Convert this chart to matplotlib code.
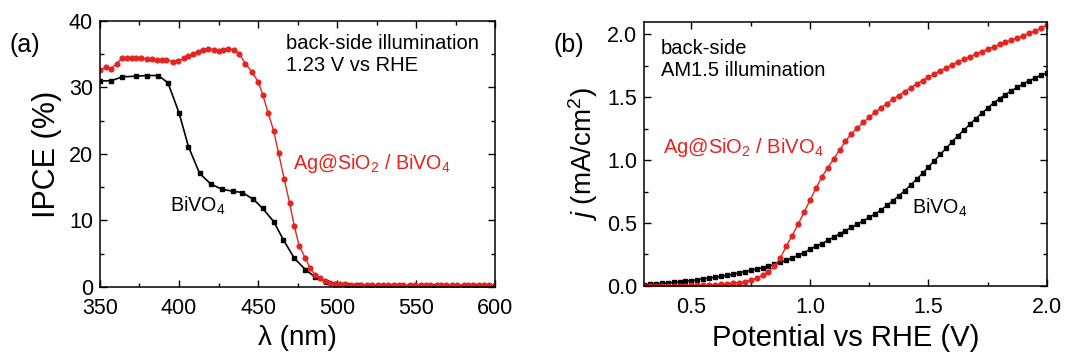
import matplotlib.pyplot as plt
from matplotlib.ticker import MultipleLocator

plt.rcParams['font.family'] = ['Liberation Sans', 'DejaVu Sans']
plt.rcParams['mathtext.fontset'] = 'custom'
plt.rcParams['mathtext.rm'] = 'Liberation Sans'
plt.rcParams['mathtext.it'] = 'Liberation Sans:italic'

RED = '#e5231f'

# (a) IPCE vs wavelength
wl_bivo4 = [350, 357, 364, 373, 380, 387, 393, 400, 406, 413, 420, 427, 434, 440, 447,
            453, 460, 466, 473, 480, 486, 493, 499, 506, 513, 520, 526, 533, 540, 546,
            553, 560, 567, 573, 580, 587, 593, 600]
ipce_bivo4 = [31.0, 31.0, 31.6, 31.7, 31.8, 31.8, 30.7, 26.2, 21.1, 17.1, 15.5, 14.7, 14.4,
              14.2, 13.2, 11.8, 9.8, 7.1, 4.3, 2.6, 1.5, 0.8, 0.4, 0.3, 0.25, 0.2, 0.2, 0.2,
              0.2, 0.2, 0.2, 0.2, 0.2, 0.2, 0.2, 0.2, 0.2, 0.2]

wl_ag = [350, 354, 357, 360.5, 364, 367, 370, 373, 376, 379.5, 383, 386, 389, 392, 396,
         399.5, 403, 406, 409, 412, 415, 418.5, 422, 425, 428, 431, 434.5, 438, 442, 446,
         450, 453, 456.5, 460, 463, 466.5, 470, 473, 476, 480, 483, 486, 489, 492.5, 495.5,
         499, 502, 505, 509, 512, 515, 519, 522, 526, 529, 532, 536, 539, 542, 546, 549,
         553, 556, 559, 563, 566, 569, 573, 576, 580, 583, 586, 590, 593, 596, 600]
ipce_ag = [32.6, 33.1, 32.8, 33.6, 34.4, 34.5, 34.5, 34.5, 34.4, 34.3, 34.3, 34.1, 34.1,
           34.2, 33.9, 34.0, 34.4, 34.7, 35.0, 35.4, 35.7, 35.8, 35.7, 35.5, 35.7, 35.8,
           35.7, 35.1, 33.6, 32.4, 30.9, 28.9, 26.1, 23.4, 20.1, 16.3, 12.6, 9.1, 6.2, 4.3,
           2.8, 1.8, 1.3, 0.9, 0.65, 0.5, 0.45, 0.4, 0.35, 0.32, 0.3, 0.3, 0.28, 0.28, 0.27,
           0.27, 0.26, 0.26, 0.25, 0.25, 0.25, 0.25, 0.25, 0.25, 0.25, 0.26, 0.26, 0.27,
           0.28, 0.3, 0.3, 0.3, 0.31, 0.32, 0.32, 0.33]

# (b) j-V curves
potential = [0.300, 0.325, 0.350, 0.375, 0.400, 0.425, 0.450, 0.475, 0.500, 0.525, 0.550,
             0.575, 0.600, 0.625, 0.650, 0.675, 0.700, 0.725, 0.750, 0.775, 0.800, 0.825,
             0.850, 0.875, 0.900, 0.925, 0.950, 0.975, 1.000, 1.025, 1.050, 1.075, 1.100,
             1.125, 1.150, 1.175, 1.200, 1.225, 1.250, 1.275, 1.300, 1.325, 1.350, 1.375,
             1.400, 1.425, 1.450, 1.475, 1.500, 1.525, 1.550, 1.575, 1.600, 1.625, 1.650,
             1.675, 1.700, 1.725, 1.750, 1.775, 1.800, 1.825, 1.850, 1.875, 1.900, 1.925,
             1.950, 1.975, 2.000]
j_bivo4 = [0.008, 0.012, 0.016, 0.019, 0.023, 0.027, 0.032, 0.037, 0.042, 0.048, 0.056,
           0.063, 0.069, 0.076, 0.083, 0.092, 0.104, 0.114, 0.124, 0.134, 0.145, 0.156,
           0.170, 0.186, 0.203, 0.222, 0.244, 0.265, 0.290, 0.314, 0.337, 0.361, 0.387,
           0.414, 0.440, 0.465, 0.491, 0.517, 0.545, 0.572, 0.604, 0.640, 0.677, 0.717,
           0.758, 0.802, 0.848, 0.895, 0.945, 0.995, 1.045, 1.095, 1.147, 1.196, 1.240,
           1.286, 1.331, 1.374, 1.415, 1.455, 1.490, 1.522, 1.552, 1.580, 1.607, 1.632,
           1.655, 1.675, 1.692]
j_ag = [0.000, 0.000, 0.000, 0.001, 0.001, 0.002, 0.002, 0.002, 0.003, 0.003, 0.004,
        0.005, 0.008, 0.012, 0.016, 0.021, 0.026, 0.034, 0.045, 0.060, 0.085, 0.110,
        0.155, 0.220, 0.315, 0.400, 0.490, 0.585, 0.680, 0.775, 0.865, 0.940, 1.010,
        1.080, 1.150, 1.210, 1.255, 1.300, 1.340, 1.381, 1.416, 1.450, 1.483, 1.514,
        1.545, 1.576, 1.605, 1.633, 1.660, 1.686, 1.711, 1.735, 1.758, 1.780, 1.802,
        1.823, 1.843, 1.863, 1.882, 1.901, 1.920, 1.938, 1.955, 1.973, 1.990, 2.008,
        2.028, 2.050, 2.075]

fig = plt.figure(figsize=(10.68, 3.56), dpi=100)
ax1 = fig.add_axes([0.0936, 0.194, 0.370, 0.747])
ax2 = fig.add_axes([0.603, 0.197, 0.3773, 0.7416])


def style(ax):
    ax.tick_params(which='both', direction='in', top=True, right=True, labelsize=15.5)
    ax.tick_params(axis='x', pad=8)
    ax.tick_params(axis='y', pad=5)
    ax.tick_params(which='major', length=5, width=1)
    ax.tick_params(which='minor', length=3, width=1)
    for s in ax.spines.values():
        s.set_linewidth(1.1)


# panel (a)
ax1.plot(wl_bivo4, ipce_bivo4, color='black', marker='s', markersize=2.8, lw=1.2)
ax1.plot(wl_ag, ipce_ag, color=RED, marker='o', markersize=3.4, lw=1.0)
ax1.set_xlim(350, 600)
ax1.set_ylim(0, 40)
ax1.xaxis.set_major_locator(MultipleLocator(50))
ax1.xaxis.set_minor_locator(MultipleLocator(25))
ax1.yaxis.set_major_locator(MultipleLocator(10))
ax1.yaxis.set_minor_locator(MultipleLocator(5))
style(ax1)
ax1.set_xlabel('λ (nm)', fontsize=20, labelpad=4)
ax1.set_ylabel('IPCE (%)', fontsize=22, labelpad=5)
ax1.text(468, 38.0, 'back-side illumination\n1.23 V vs RHE', fontsize=14.5,
         ha='left', va='top', linespacing=1.2)
ax1.text(472, 18.5, r'Ag@SiO$_\mathrm{2}$ / BiVO$_\mathrm{4}$', color=RED, fontsize=14.2,
         ha='left', va='center')
ax1.text(394, 12.2, r'BiVO$_\mathrm{4}$', color='black', fontsize=14.2, ha='left', va='center')
fig.text(0.009, 0.873, '(a)', fontsize=18, ha='left', va='center')

# panel (b)
ax2.plot(potential, j_bivo4, color='black', marker='s', markersize=2.8, lw=1.0)
ax2.plot(potential, j_ag, color=RED, marker='o', markersize=3.4, lw=1.0)
ax2.set_xlim(0.3, 2.0)
ax2.set_ylim(0, 2.1)
ax2.xaxis.set_major_locator(MultipleLocator(0.5))
ax2.xaxis.set_minor_locator(MultipleLocator(0.25))
ax2.yaxis.set_major_locator(MultipleLocator(0.5))
ax2.yaxis.set_minor_locator(MultipleLocator(0.25))
ax2.xaxis.set_major_formatter(plt.FormatStrFormatter('%.1f'))
ax2.yaxis.set_major_formatter(plt.FormatStrFormatter('%.1f'))
style(ax2)
ax2.set_xlabel('Potential vs RHE (V)', fontsize=21, labelpad=4)
ax2.set_ylabel(r'$j$ (mA/cm$^\mathrm{2}$)', fontsize=20, labelpad=5)
ax2.text(0.37, 1.96, 'back-side\nAM1.5 illumination', fontsize=14.5,
         ha='left', va='top', linespacing=1.2)
ax2.text(0.38, 1.10, r'Ag@SiO$_\mathrm{2}$ / BiVO$_\mathrm{4}$', color=RED, fontsize=14.5,
         ha='left', va='center')
ax2.text(1.43, 0.62, r'BiVO$_\mathrm{4}$', color='black', fontsize=14.2, ha='left', va='center')
fig.text(0.518, 0.873, '(b)', fontsize=18, ha='left', va='center')

fig.savefig('out.png', dpi=100)
